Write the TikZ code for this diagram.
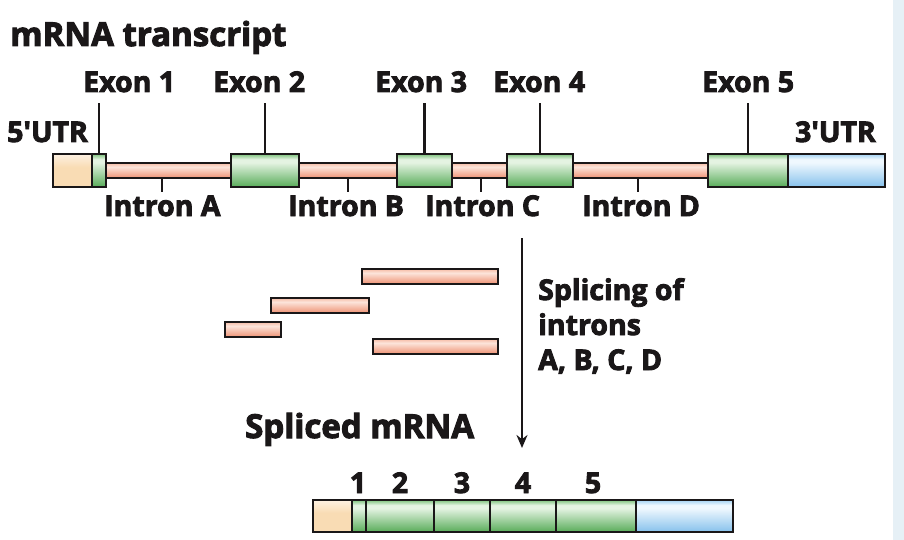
\documentclass[tikz,border=0pt]{standalone}
\usepackage{fontspec}
\newfontfamily\lblfont{Open Sans}[Ligatures=TeXOff, BoldFeatures={FakeBold=3}]
\usetikzlibrary{arrows.meta}
\definecolor{ink}{HTML}{1A1718}
\definecolor{exT}{HTML}{7DC27C}
\definecolor{exW}{HTML}{E4F3E2}
\definecolor{exB}{HTML}{58AC59}
\definecolor{inT}{HTML}{F6BCA6}
\definecolor{inW}{HTML}{FCE4DA}
\definecolor{inB}{HTML}{EE9274}
\definecolor{blT}{HTML}{A2D2F3}
\definecolor{blW}{HTML}{EFF8FE}
\definecolor{blB}{HTML}{86C1EC}
\definecolor{ppT}{HTML}{FDF1E2}
\definecolor{ppB}{HTML}{F9DCB4}
\definecolor{bgstrip}{HTML}{E6F0F6}
\pgfdeclareverticalshading{exsh}{100bp}{color(0bp)=(exB); color(25bp)=(exB); color(62bp)=(exW); color(67bp)=(exW); color(75bp)=(exT); color(100bp)=(exT)}
\pgfdeclareverticalshading{insh}{100bp}{color(0bp)=(inB); color(25bp)=(inB); color(62bp)=(inW); color(75bp)=(inT); color(100bp)=(inT)}
\pgfdeclareverticalshading{blsh}{100bp}{color(0bp)=(blB); color(25bp)=(blB); color(62bp)=(blW); color(67bp)=(blW); color(75bp)=(blT); color(100bp)=(blT)}
\pgfdeclareverticalshading{ppsh}{100bp}{color(0bp)=(ppB); color(25bp)=(ppB); color(55bp)=(ppB); color(75bp)=(ppT); color(100bp)=(ppT)}
\begin{document}
\begin{tikzpicture}[x=1pt,y=-1pt,
  seg/.style={draw=ink, line width=2.6pt, inner sep=0pt, outer sep=0pt, anchor=north west},
  exon/.style={seg, shading=exsh},
  intron/.style={seg, shading=insh},
  utrfive/.style={seg, shading=ppsh},
  utrthree/.style={seg, shading=blsh},
  lbl/.style={font=\lblfont\bfseries\fontsize{28.5}{30}\selectfont, text=ink, inner sep=0pt, anchor=base west},
  biglbl/.style={lbl, font=\lblfont\bfseries\fontsize{33}{35}\selectfont},
  tick/.style={draw=ink, line width=2.6pt}
]
\useasboundingbox (0,0) rectangle (904,540);
\fill[white] (0,0) rectangle (904,540);
\fill[bgstrip] (893,0) rectangle (904,540);

% ---- mRNA transcript ----
\node[biglbl] (title) at (10,46) {mRNA transcript};

\node[intron, minimum width=125pt, minimum height=15pt] (iA) at (106,163) {};
\node[intron, minimum width=98pt, minimum height=15pt] (iB) at (299,163) {};
\node[intron, minimum width=55pt, minimum height=15pt] (iC) at (452,163) {};
\node[intron, minimum width=135pt, minimum height=15pt] (iD) at (573,163) {};

\node[utrfive, minimum width=39pt, minimum height=33pt] (u5) at (53,154) {};
\node[exon, minimum width=14pt, minimum height=33pt] (e1) at (92,154) {};
\node[exon, minimum width=68pt, minimum height=33pt] (e2) at (231,154) {};
\node[exon, minimum width=55pt, minimum height=33pt] (e3) at (397,154) {};
\node[exon, minimum width=66pt, minimum height=33pt] (e4) at (507,154) {};
\node[exon, minimum width=80pt, minimum height=33pt] (e5) at (708,154) {};
\node[utrthree, minimum width=97pt, minimum height=33pt] (u3) at (788,154) {};

\coordinate (ttop) at (0,103);
\coordinate (tbot) at (0,192);
\draw[tick] (e1.north) -- (e1.north |- ttop);
\draw[tick] (e2.north) -- (e2.north |- ttop);
\draw[tick] (e3.north) -- (e3.north |- ttop);
\draw[tick] (e4.north) -- (e4.north |- ttop);
\draw[tick] (e5.north) -- (e5.north |- ttop);

\coordinate (tA) at (162,178);
\coordinate (tB) at (348,178);
\coordinate (tC) at (481,178);
\coordinate (tD) at (638,178);
\draw[tick] (tA) -- (tA |- tbot);
\draw[tick] (tB) -- (tB |- tbot);
\draw[tick] (tC) -- (tC |- tbot);
\draw[tick] (tD) -- (tD |- tbot);

\node[lbl] (l1) at (83,92) {Exon 1};
\node[lbl] (l2) at (213,92) {Exon 2};
\node[lbl] (l3) at (375,92) {Exon 3};
\node[lbl] (l4) at (493,92) {Exon 4};
\node[lbl] (l5) at (702,92) {Exon 5};
\node[lbl] (l5u) at (7,142) {5'UTR};
\node[lbl, anchor=base east] (l3u) at (876,142) {3'UTR};

\node[lbl] (lA) at (104,216) {Intron A};
\node[lbl] (lB) at (288,216) {Intron B};
\node[lbl] (lC) at (425,216) {Intron C};
\node[lbl] (lD) at (582,216) {Intron D};

% ---- excised introns ----
\node[intron, minimum width=136pt, minimum height=15pt] (f1) at (362,269) {};
\node[intron, minimum width=98pt, minimum height=15pt] (f2) at (271,298) {};
\node[intron, minimum width=56pt, minimum height=15pt] (f3) at (225,322) {};
\node[intron, minimum width=125pt, minimum height=15pt] (f4) at (373,339) {};

\coordinate (atop) at (522,238);
\coordinate (abot) at (522,448);
\draw[draw=ink, line width=2.8pt, -{Stealth[length=13pt,width=11pt]}] (atop) -- (abot);

\node[lbl] (s1) at (538,300) {Splicing of};
\node[lbl] (s2) at (538,335) {introns};
\node[lbl] (s3) at (538,370) {A, B, C, D};

% ---- spliced mRNA ----
\node[biglbl] (sm) at (245,438) {Spliced mRNA};

\node[utrfive, minimum width=39pt, minimum height=32pt] (m0) at (313,500) {};
\node[exon, minimum width=14pt, minimum height=32pt] (m1) at (352,500) {};
\node[exon, minimum width=68pt, minimum height=32pt] (m2) at (366,500) {};
\node[exon, minimum width=56pt, minimum height=32pt] (m3) at (434,500) {};
\node[exon, minimum width=66pt, minimum height=32pt] (m4) at (490,500) {};
\node[exon, minimum width=80pt, minimum height=32pt] (m5) at (556,500) {};
\node[utrthree, minimum width=97pt, minimum height=32pt] (m6) at (636,500) {};

\node[lbl, anchor=base] (d1) at (358,493) {1};
\node[lbl, anchor=base] (d2) at (400,493) {2};
\node[lbl, anchor=base] (d3) at (462,493) {3};
\node[lbl, anchor=base] (d4) at (523,493) {4};
\node[lbl, anchor=base] (d5) at (593,493) {5};
\end{tikzpicture}
\end{document}
